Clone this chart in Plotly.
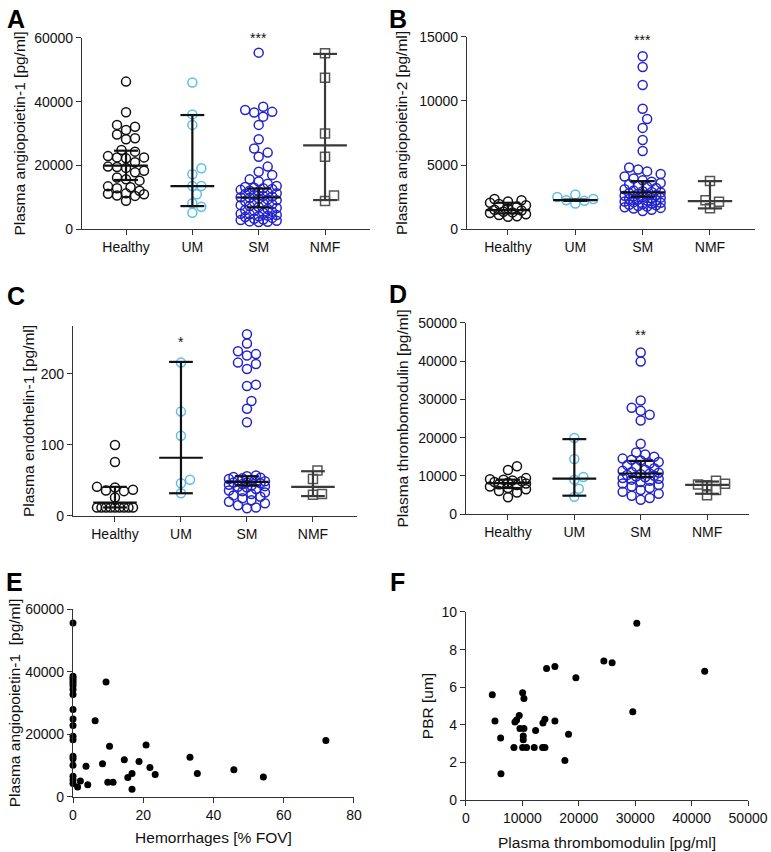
import plotly.graph_objs as go

GROUPS = ['Healthy', 'UM', 'SM', 'NMF']
FONT = 'Liberation Sans, Arial, sans-serif'
GROUP_COLORS = ['#111111', '#5cbfea', '#2323cc', '#555555']
GROUP_SYMBOLS = ['circle-open', 'circle-open', 'circle-open', 'square-open']

# ---- A: angiopoietin-1 ----
ang1_healthy = [46300, 36700, 32700, 32100, 31100, 29700, 28500, 28200, 24800, 24300, 22900,
                22500, 22500, 22200, 21000, 19600, 19500, 19200, 18300, 17800, 16200, 15600,
                15200, 13400, 13100, 12800, 12000, 11200, 11100, 10900, 10500, 10400, 8900]
ang1_um = [46000, 36000, 32700, 19100, 17200, 13500, 13500, 10900, 8100, 7000, 5100]
ang1_sm = [55400, 38400, 37400, 36800, 36600, 35300, 32700, 28200, 25300, 24000, 22700, 19600,
           18000, 17000, 15600, 14900,
           14200, 13500, 13200, 13000, 12800, 12600, 12300, 12000, 11800, 11500, 11200, 11000,
           10700, 10400, 10200, 10000, 9800, 9600, 9300, 9000, 8700, 8400, 8100, 7800, 7500,
           7200, 6900, 6600, 6300, 6000, 5700, 5400, 5100, 4800, 4600, 4400, 4200, 4000, 3800,
           3500, 3200, 3000, 2800, 2600, 2400, 2300, 2200]
ang1_nmf = [55200, 47500, 30000, 22700, 10500, 8800]
ang1_median = [19900, 13500, 9900, 26300]
ang1_lower = [15400, 7200, 6800, 9100]
ang1_upper = [24600, 35800, 12700, 55000]

# ---- B: angiopoietin-2 ----
ang2_healthy = [2350, 2250, 2150, 2050, 1950, 1850, 1750, 1600, 1500, 1450, 1350, 1300, 1250,
                1150, 1100, 1000, 950]
ang2_um = [2700, 2500, 2350, 2250, 2200, 2000]
ang2_sm = [13500, 12650, 11250, 9400, 8600, 7900, 6950, 6100,
           4800, 4650, 4500, 4300, 4100, 3950, 3800, 3700, 3600, 3500, 3400, 3300, 3200, 3100,
           3000, 2950, 2900, 2850, 2800, 2750, 2700, 2650, 2600, 2550, 2500, 2450, 2400, 2350,
           2300, 2250, 2200, 2150, 2100, 2050, 2000, 1950, 1900, 1850, 1800, 1750, 1700, 1650,
           1600, 1500, 1400]
ang2_nmf = [3750, 2250, 2130, 1620]
ang2_median = [1480, 2250, 2860, 2180]
ang2_lower = [1220, 2200, 2520, 1610]
ang2_upper = [2050, 2300, 3740, 3740]

# ---- C: endothelin-1 ----
et1_healthy = [100, 76, 41, 40, 37, 36, 35, 26, 12, 12, 12, 12, 12, 12, 12, 12, 12]
et1_um = [216, 147, 113, 51, 46, 32]
et1_sm = [256, 243, 232, 228, 226, 216, 214, 207, 185, 183, 162, 151, 132,
          57, 56, 55, 54, 53, 52, 51, 50, 49, 48, 47, 47, 46, 45, 44, 43, 42, 41, 40, 38,
          36, 35, 33, 31, 29, 27, 25, 22, 20, 18, 15, 12, 11]
et1_nmf = [64, 52, 31, 30]
et1_median = [19, 82, 48, 41]
et1_lower = [12, 32, 43, 28]
et1_upper = [41, 217, 56, 63]

# ---- D: thrombomodulin ----
tm_healthy = [12500, 11500, 9400, 9100, 9000, 8800, 8600, 8400, 8200, 8000, 7800, 7600, 7200,
              6800, 6500, 6000, 5600, 4400]
tm_um = [19900, 14400, 9700, 9000, 6600, 4500]
tm_sm = [42300, 39900, 29700, 27800, 27000, 26000, 24500, 18400, 16100, 15600,
         15000, 14500, 14200, 14000, 13600, 13200, 12800, 12400, 12000, 11600, 11300, 11000,
         10800, 10600, 10400, 10200, 10000, 9800, 9600, 9400, 9200, 9000, 8700, 8400, 8000,
         7600, 7200, 6800, 6300, 5800, 5300, 4800, 4200, 3700]
tm_nmf = [8700, 7900, 7700, 7500, 6300, 4900]
tm_median = [8100, 9250, 10600, 7650]
tm_lower = [6800, 4800, 9700, 5300]
tm_upper = [9000, 19600, 13900, 8500]

# ---- E: hemorrhages vs angiopoietin-1 ----
hem_pct = [0, 0, 0, 0, 0, 0, 0, 0, 0, 0, 0, 0, 0, 0, 0, 0, 0, 0, 0,
           1.3, 2.1, 3.7, 4.2, 6.3, 8.4, 9.4, 9.9, 10.4, 11.4, 14.6, 15.6, 16.8, 16.8, 18.8,
           20.8, 21.9, 23.4, 33.3, 35.4, 45.8, 54.2, 72.0]
hem_ang1 = [55500, 38500, 37800, 37100, 36400, 35500, 34300, 32700, 27900, 24900, 22800,
            19400, 18300, 13000, 12200, 10100, 6600, 5500, 4300,
            3200, 5100, 9800, 3900, 24300, 10600, 36700, 4700, 16200, 4700, 11900, 6200, 2500,
            7500, 11300, 16600, 9400, 7200, 12700, 7500, 8700, 6400, 18000]

# ---- F: thrombomodulin vs PBR ----
tm_x = [4660, 5140, 6140, 6200, 8500, 8680, 8970, 9440, 9560, 10040, 10040, 10270, 10270,
        10150, 10150, 10740, 12100, 12340, 13580, 13990, 13640, 13990, 14290, 15760, 15760,
        17530, 18180, 19480, 24440, 25910, 29570, 30280, 42320]
pbr = [5.6, 4.2, 3.3, 1.4, 2.8, 4.15, 4.25, 4.5, 3.8, 2.8, 5.7, 5.4, 3.8, 3.4, 3.2, 2.8,
       2.8, 3.7, 2.8, 2.8, 4.1, 4.3, 7.0, 7.1, 4.2, 2.1, 3.5, 6.5, 7.4, 7.3, 4.7, 9.4, 6.85]


def swarm_offsets(values, px_per_y, px_per_cat, diam=9.0, max_px=20.0):
    """Simple beeswarm: offsets (in category units) so circles do not overlap."""
    order = sorted(range(len(values)), key=lambda i: values[i])
    step = diam / 2.0
    kmax = int(max_px / step)
    cands = [0.0]
    for k in range(1, kmax + 1):
        cands += [k * step, -k * step]
    placed = []
    offs = [0.0] * len(values)
    for i in order:
        y = values[i] * px_per_y
        best, best_d = 0.0, -1.0
        for c in cands:
            near = [((c - px) ** 2 + (y - py) ** 2) ** 0.5 for px, py in placed if abs(y - py) < diam]
            dmin = min(near) if near else 1e9
            if dmin >= diam:
                best = c
                break
            if dmin > best_d:
                best_d, best = dmin, c
        placed.append((best, y))
        offs[i] = best / px_per_cat
    return offs


def add_dot_panel(fig, n, groups_data, median, lower, upper, px_per_y, px_per_cat):
    xa, ya = 'x%d' % n if n > 1 else 'x', 'y%d' % n if n > 1 else 'y'
    for g, vals in enumerate(groups_data):
        offs = swarm_offsets(vals, px_per_y, px_per_cat)
        fig.add_trace(go.Scatter(
            x=[g + o for o in offs], y=vals, mode='markers', xaxis=xa, yaxis=ya,
            marker=dict(symbol=GROUP_SYMBOLS[g], size=9, color=GROUP_COLORS[g],
                        line=dict(width=1.5, color=GROUP_COLORS[g])),
            cliponaxis=False, showlegend=False, hoverinfo='skip'))
    # median + error bars on top of the dots
    for g in range(len(groups_data)):
        xs = [g - 0.33, g + 0.33, None, g, g, None, g - 0.18, g + 0.18, None, g - 0.18, g + 0.18]
        ys = [median[g], median[g], None, lower[g], upper[g], None, lower[g], lower[g], None,
              upper[g], upper[g]]
        fig.add_trace(go.Scatter(
            x=xs, y=ys, mode='lines', xaxis=xa, yaxis=ya,
            line=dict(color='#3a3a3a' if g == 3 else '#111111', width=2.2),
            cliponaxis=False, showlegend=False, hoverinfo='skip'))


fig = go.Figure()

add_dot_panel(fig, 1, [ang1_healthy, ang1_um, ang1_sm, ang1_nmf],
              ang1_median, ang1_lower, ang1_upper, 191 / 60000, 66.3)
add_dot_panel(fig, 2, [ang2_healthy, ang2_um, ang2_sm, ang2_nmf],
              ang2_median, ang2_lower, ang2_upper, 192 / 15000, 67.3)
add_dot_panel(fig, 3, [et1_healthy, et1_um, et1_sm, et1_nmf],
              et1_median, et1_lower, et1_upper, 142 / 200, 66.0)
add_dot_panel(fig, 4, [tm_healthy, tm_um, tm_sm, tm_nmf],
              tm_median, tm_lower, tm_upper, 191 / 50000, 66.3)

fig.add_trace(go.Scatter(x=hem_pct, y=hem_ang1, mode='markers', xaxis='x5', yaxis='y5',
                         marker=dict(size=7, color='#000000'), cliponaxis=False,
                         showlegend=False, hoverinfo='skip'))
fig.add_trace(go.Scatter(x=tm_x, y=pbr, mode='markers', xaxis='x6', yaxis='y6',
                         marker=dict(size=7, color='#000000'), cliponaxis=False,
                         showlegend=False, hoverinfo='skip'))

AX = dict(showline=True, linecolor='#333333', linewidth=1.2, showgrid=False, zeroline=False,
          ticks='outside', ticklen=5, tickwidth=1.2, tickcolor='#333333',
          tickfont=dict(size=14, family=FONT, color='#111111'), automargin=False,
          fixedrange=True)
TITLE_FONT = dict(size=15.5, family=FONT, color='#111111')


def cat_x(domain, rng, anchor):
    return dict(AX, domain=domain, range=rng, anchor=anchor, tickvals=[0, 1, 2, 3],
                ticktext=GROUPS)


def num_ax(domain, rng, anchor, tickvals, title, standoff):
    return dict(AX, domain=domain, range=rng, anchor=anchor, tickvals=tickvals,
                tickformat='d', title=dict(text=title, font=TITLE_FONT, standoff=standoff))


fig.update_layout(
    width=771, height=852, margin=dict(l=0, r=0, t=0, b=0),
    paper_bgcolor='white', plot_bgcolor='white',
    font=dict(family=FONT, color='#111111'),
    xaxis=cat_x([0.1064, 0.4799], [-0.663, 3.678], 'y'),
    yaxis=num_ax([0.7312, 0.9554], [0, 60000], 'x', [0, 20000, 40000, 60000],
                 'Plasma angiopoietin-1 [pg/ml]', 4),
    xaxis2=cat_x([0.6057, 0.9792], [-0.609, 3.668], 'y2'),
    yaxis2=num_ax([0.7312, 0.9566], [0, 15000], 'x2', [0, 5000, 10000, 15000],
                  'Plasma angiopoietin-2 [pg/ml]', 7),
    xaxis3=cat_x([0.0947, 0.4630], [-0.636, 3.667], 'y3'),
    yaxis3=num_ax([0.3944, 0.6174], [0, 267.6], 'x3', [0, 100, 200],
                  'Plasma endothelin-1 [pg/ml]', 2),
    xaxis4=cat_x([0.6044, 0.9715], [-0.633, 3.633], 'y4'),
    yaxis4=num_ax([0.3967, 0.6209], [0, 50000], 'x4', [0, 10000, 20000, 30000, 40000, 50000],
                  'Plasma thrombomodulin [pg/ml]', 5),
    xaxis5=num_ax([0.0947, 0.4591], [0, 80], 'y5', [0, 20, 40, 60, 80],
                  'Hemorrhages [% FOV]', 10),
    yaxis5=num_ax([0.0646, 0.2852], [0, 60000], 'x5', [0, 20000, 40000, 60000],
                  'Plasma angiopoietin-1  [pg/ml]', 0),
    xaxis6=num_ax([0.6044, 0.9702], [0, 50000], 'y6', [0, 10000, 20000, 30000, 40000, 50000],
                  'Plasma thrombomodulin [pg/ml]', 12),
    yaxis6=num_ax([0.0610, 0.2817], [0, 10], 'x6', [0, 2, 4, 6, 8, 10], 'PBR [um]', 4),
)

annotations = []
# panel letters
for letter, px, py in [('A', 5, 3), ('B', 387, 3), ('C', 5, 280), ('D', 387, 278),
                       ('E', 4, 566), ('F', 388, 566)]:
    annotations.append(dict(text='<b>%s</b>' % letter, xref='paper', yref='paper',
                            x=px / 771, y=1 - py / 852, xanchor='left', yanchor='top',
                            showarrow=False, font=dict(size=25, family=FONT, color='#000000')))
# significance marks
for text, xa, ya, xv, yv in [('***', 'x', 'y', 2, 60000), ('***', 'x2', 'y2', 2, 14800),
                             ('*', 'x3', 'y3', 1, 245), ('**', 'x3', 'y3', 2, 272),
                             ('**', 'x4', 'y4', 2, 46800)]:
    annotations.append(dict(text=text, xref=xa, yref=ya, x=xv, y=yv, showarrow=False,
                            yanchor='middle', font=dict(size=14, family=FONT, color='#111111')))
fig.update_layout(annotations=annotations)

# page body has a default margin; drop it so the figure sits at the window origin
fig.write_html("out.html", config={'displayModeBar': False},
               post_script="document.body.style.margin='0px';")
